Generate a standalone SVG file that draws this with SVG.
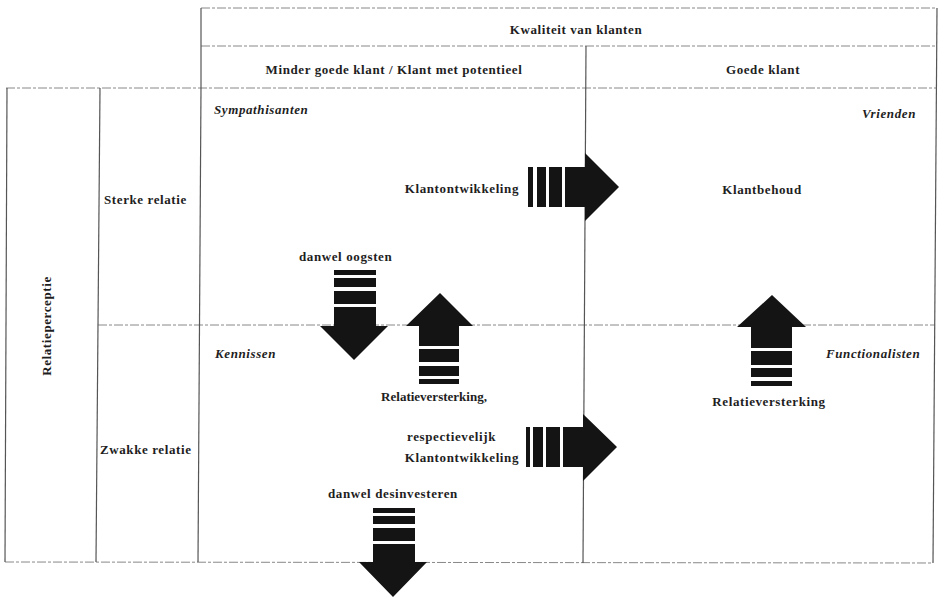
<svg xmlns="http://www.w3.org/2000/svg" width="939" height="598" viewBox="0 0 939 598">
  <style>
    .grid-v { stroke: #555; stroke-width: 1.2; fill: none; }
    .grid-h { stroke: #888; stroke-width: 1; stroke-dasharray: 9 2 3 2; fill: none; }
    .lbl { font-family: "Liberation Serif", "Times New Roman", serif; font-size: 13px; font-weight: bold; letter-spacing: 0.6px; fill: #1e1e1e; }
    .tight { letter-spacing: 0; }
    .it { font-style: italic; }
    .mid { text-anchor: middle; }
    .end { text-anchor: end; }
    .arrow { fill: #141414; }
  </style>

  <rect width="939" height="598" fill="#fff"/>

  <!-- table rules -->
  <g id="grid">
    <line class="grid-h" x1="201" y1="8" x2="937" y2="8"/>
    <line class="grid-h" x1="201" y1="46" x2="937" y2="46"/>
    <line class="grid-h" x1="6" y1="88" x2="937" y2="88"/>
    <line class="grid-h" x1="98" y1="325" x2="935" y2="325"/>
    <line class="grid-h" x1="5" y1="562" x2="933" y2="563"/>
    <line class="grid-v" x1="201" y1="8" x2="201" y2="88"/>
    <line class="grid-v" x1="7" y1="88" x2="5" y2="562"/>
    <line class="grid-v" x1="100" y1="88" x2="96" y2="562"/>
    <line class="grid-v" x1="201" y1="88" x2="198" y2="562"/>
    <line class="grid-v" x1="586" y1="46" x2="583" y2="563"/>
    <line class="grid-v" x1="937" y1="8" x2="933" y2="563"/>
  </g>

  <!-- header cells -->
  <g id="header-quality">
    <text class="lbl mid" x="576" y="34">Kwaliteit van klanten</text>
  </g>
  <g id="header-less-good">
    <text class="lbl mid" x="394" y="74">Minder goede klant / Klant met potentieel</text>
  </g>
  <g id="header-good">
    <text class="lbl mid" x="763" y="74">Goede klant</text>
  </g>

  <!-- row headers -->
  <g id="axis-relation">
    <text class="lbl mid" transform="translate(51 326) rotate(-90)">Relatieperceptie</text>
  </g>
  <g id="row-strong">
    <text class="lbl" x="104" y="204">Sterke relatie</text>
  </g>
  <g id="row-weak">
    <text class="lbl" x="100" y="454">Zwakke relatie</text>
  </g>

  <!-- quadrants -->
  <g id="q-sympathisanten">
    <text class="lbl it" x="214" y="114">Sympathisanten</text>
  </g>
  <g id="q-vrienden">
    <text class="lbl it end" x="916" y="118">Vrienden</text>
  </g>
  <g id="q-kennissen">
    <text class="lbl it" x="215" y="358">Kennissen</text>
  </g>
  <g id="q-functionalisten">
    <text class="lbl it" x="826" y="358">Functionalisten</text>
  </g>

  <!-- strategy labels -->
  <g id="lbl-klantontwikkeling-top">
    <text class="lbl end" x="519" y="193">Klantontwikkeling</text>
  </g>
  <g id="lbl-klantbehoud">
    <text class="lbl mid" x="762" y="194">Klantbehoud</text>
  </g>
  <g id="lbl-oogsten">
    <text class="lbl" x="299" y="261">danwel oogsten</text>
  </g>
  <g id="lbl-relatieversterking-left">
    <text class="lbl tight mid" x="434" y="401">Relatieversterking,</text>
  </g>
  <g id="lbl-respectievelijk">
    <text class="lbl end" x="496" y="441">respectievelijk</text>
    <text class="lbl end" x="519" y="462">Klantontwikkeling</text>
  </g>
  <g id="lbl-desinvesteren">
    <text class="lbl" x="328" y="498">danwel desinvesteren</text>
  </g>
  <g id="lbl-relatieversterking-right">
    <text class="lbl mid" x="769" y="406">Relatieversterking</text>
  </g>

  <!-- striped block arrows -->
  <g id="connectors" class="arrow">
    <!-- right arrow, strong relation -->
    <rect x="528" y="167" width="5" height="40"/>
    <rect x="537" y="167" width="9" height="40"/>
    <rect x="549" y="167" width="13" height="40"/>
    <polygon points="565,167 585,167 585,153 619,187 585,221 585,207 565,207"/>

    <!-- down arrow, danwel oogsten -->
    <rect x="334" y="270" width="42" height="5"/>
    <rect x="334" y="278" width="42" height="9"/>
    <rect x="334" y="291" width="42" height="13"/>
    <polygon points="334,307 376,307 376,326 388,326 354,360 320,326 334,326"/>

    <!-- up arrow, relatieversterking left -->
    <polygon points="440,293 473,326 459,326 459,346 419,346 419,326 406,326"/>
    <rect x="419" y="349" width="40" height="13"/>
    <rect x="419" y="366" width="40" height="10"/>
    <rect x="419" y="379" width="40" height="5"/>

    <!-- right arrow, weak relation -->
    <rect x="526" y="427" width="4" height="40"/>
    <rect x="533" y="427" width="10" height="40"/>
    <rect x="546" y="427" width="14" height="40"/>
    <polygon points="563,427 583,427 583,414 617,447 583,481 583,467 563,467"/>

    <!-- down arrow, danwel desinvesteren -->
    <rect x="373" y="508" width="42" height="5"/>
    <rect x="373" y="516" width="42" height="8"/>
    <rect x="373" y="528" width="42" height="13"/>
    <polygon points="373,544 415,544 415,562 427,562 393,597 359,562 373,562"/>

    <!-- up arrow, relatieversterking right -->
    <polygon points="772,295 806,327 792,327 792,348 751,348 751,327 737,327"/>
    <rect x="751" y="351" width="41" height="14"/>
    <rect x="751" y="368" width="41" height="9"/>
    <rect x="751" y="381" width="41" height="5"/>
  </g>
</svg>
